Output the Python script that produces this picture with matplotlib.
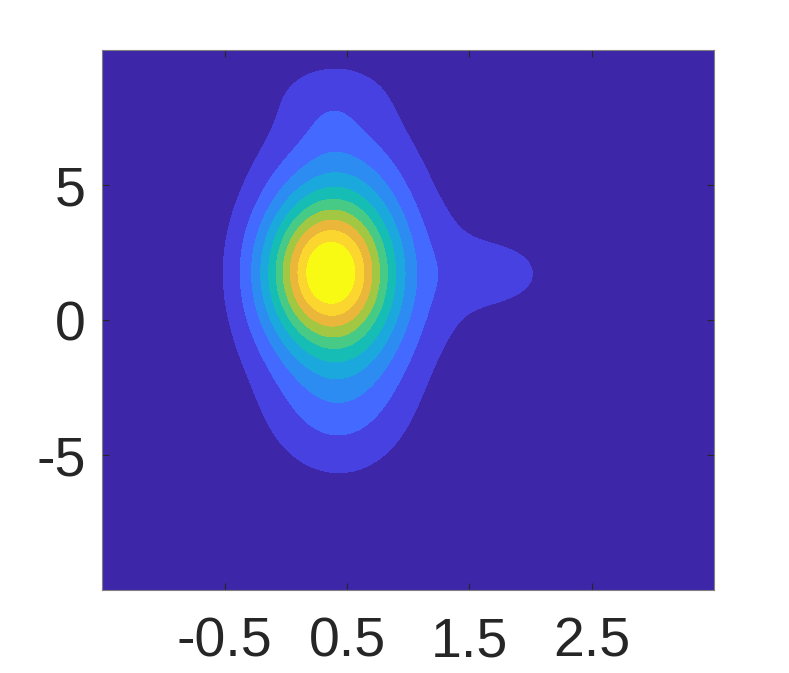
import numpy as np
import matplotlib
matplotlib.use("Agg")
import matplotlib.pyplot as plt

# density components: centre x, centre y, spread x, spread y, height
comp_x = [0.32, 0.44, 0.36, 0.36, 0.38, 1.45, 1.78]
comp_y = [1.80, 1.55, 7.00, 8.40, -4.00, 1.70, 1.72]
comp_sx = [0.36, 0.45, 0.16, 0.36, 0.40, 0.25, 0.25]
comp_sy = [1.80, 3.75, 0.80, 0.90, 1.20, 1.90, 0.80]
comp_amp = [5.8, 5.6, 0.2, 0.55, 0.3, 0.7, 1.45]

# contour levels and the parula-like band colours
levels = [1, 2, 3, 4, 5, 6, 7, 8, 9, 10]
band_colors = ["#3E26A8", "#4741E1", "#4369FE", "#2C8CF1", "#1BA8DC",
               "#15BDB5", "#48CA87", "#A2C843", "#EBB73A", "#FBD62E", "#F8FA14"]

x_ticks = [-0.5, 0.5, 1.5, 2.5]
x_labels = ["-0.5", "0.5", "1.5", "2.5"]
y_ticks = [-5, 0, 5]
y_labels = ["-5", "0", "5"]

xs = np.linspace(-1.5, 3.5, 500)
ys = np.linspace(-10, 10, 500)
X, Y = np.meshgrid(xs, ys)
Z = np.zeros_like(X)
for cx, cy, sx, sy, a in zip(comp_x, comp_y, comp_sx, comp_sy, comp_amp):
    Z += a * np.exp(-0.5 * ((X - cx) / sx) ** 2 - 0.5 * ((Y - cy) / sy) ** 2)

plt.rcParams["font.family"] = ["Liberation Sans", "DejaVu Sans"]
fig = plt.figure(figsize=(7.89, 6.73), dpi=100)
ax = fig.add_axes([0.1297, 0.1233, 0.7753, 0.8024])
ax.contourf(X, Y, Z, levels=[Z.min() - 1] + levels + [Z.max() + 1], colors=band_colors)
ax.set_xlim(-1.5, 3.5)
ax.set_ylim(-10, 10)
ax.set_xticks(x_ticks)
ax.set_xticklabels(x_labels)
ax.set_yticks(y_ticks)
ax.set_yticklabels(y_labels)
ax.tick_params(direction="in", length=5, width=0.8, color="#262626",
               labelsize=40, labelcolor="#262626", top=True, right=True)
ax.tick_params(axis="x", pad=19)
ax.tick_params(axis="y", pad=12)
for s in ax.spines.values():
    s.set_color("#808080")
    s.set_linewidth(0.8)

fig.savefig("out.png", dpi=100)
